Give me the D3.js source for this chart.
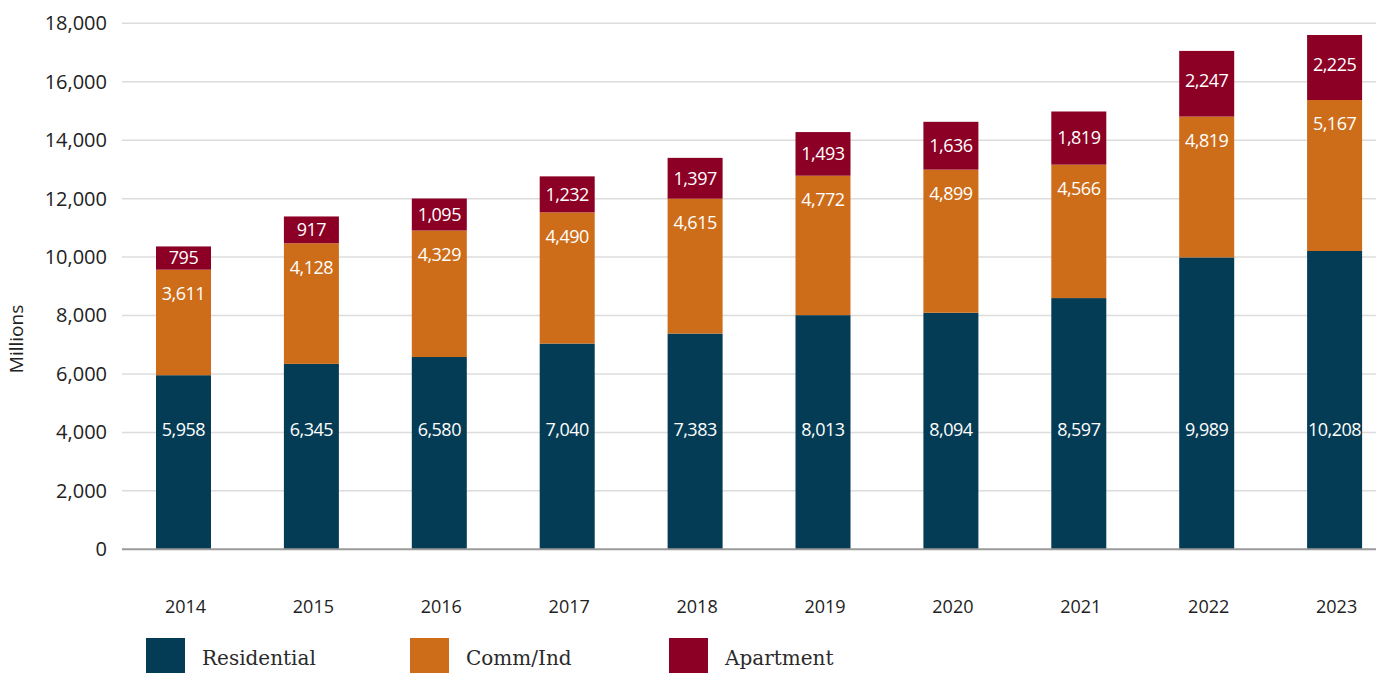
<!DOCTYPE html>
<html>
<head>
<meta charset="utf-8">
<script src="https://cdn.jsdelivr.net/npm/d3@7"></script>
<style>
  html, body { margin: 0; padding: 0; background: #ffffff; }
  svg { display: block; }
</style>
</head>
<body>
<svg id="chart" width="1376" height="673"></svg>
<script>
// ---- Data ----
const years = ["2014","2015","2016","2017","2018","2019","2020","2021","2022","2023"];
const residential = [5958, 6345, 6580, 7040, 7383, 8013, 8094, 8597, 9989, 10208];
const commInd     = [3611, 4128, 4329, 4490, 4615, 4772, 4899, 4566, 4819, 5167];
const apartment   = [795, 917, 1095, 1232, 1397, 1493, 1636, 1819, 2247, 2225];
const yTicks = [0, 2000, 4000, 6000, 8000, 10000, 12000, 14000, 16000, 18000];
const seriesNames = ["Residential", "Comm/Ind", "Apartment"];
const yAxisTitle = "Millions";

// ---- Styles ----
const colors = ["#053c55", "#ce6d19", "#8c0025"];
const W = 1376, H = 673;
const svg = d3.select("#chart");

const y = d3.scaleLinear().domain([0, 18000]).range([549.3, 23.3]);
const step = 127.9;
const x = d3.scaleBand()
  .domain(years)
  .range([183.5 - step / 2, 183.5 - step / 2 + step * years.length])
  .paddingInner(1 - 55 / step)
  .paddingOuter((1 - 55 / step) / 2);

const fmt = d3.format(",");
const sans = "'Open Sans', 'Noto Sans', sans-serif";

// gridlines
svg.append("g").selectAll("line")
  .data(yTicks.filter(d => d > 0))
  .join("line")
  .attr("x1", 122).attr("x2", W)
  .attr("y1", d => y(d)).attr("y2", d => y(d))
  .attr("stroke", "#dcdcdc").attr("stroke-width", 1.5);

// y axis tick labels
const yAxis = d3.axisLeft(y).tickValues(yTicks).tickFormat(fmt).tickSize(0).tickPadding(0);
const gy = svg.append("g").attr("transform", "translate(107,0)").call(yAxis);
gy.select(".domain").remove();
gy.selectAll("text")
  .attr("font-family", sans).attr("font-size", 20).attr("fill", "#222");

// stacked data
const table = years.map((yr, i) => ({
  year: yr, Residential: residential[i], "Comm/Ind": commInd[i], Apartment: apartment[i]
}));
const stack = d3.stack().keys(seriesNames)(table);

const layers = svg.append("g").selectAll("g")
  .data(stack).join("g")
  .attr("fill", (d, i) => colors[i]);

layers.selectAll("rect")
  .data(d => d)
  .join("rect")
  .attr("x", d => x(d.data.year))
  .attr("width", x.bandwidth())
  .attr("y", d => y(d[1]))
  .attr("height", d => y(d[0]) - y(d[1]));

// baseline
svg.append("line")
  .attr("x1", 122).attr("x2", W)
  .attr("y1", y(0)).attr("y2", y(0))
  .attr("stroke", "#9a9a9a").attr("stroke-width", 2);

// value labels
const labG = svg.append("g")
  .attr("font-family", sans).attr("font-size", 18)
  .attr("letter-spacing", "-0.5px")
  .attr("fill", "#ffffff").attr("text-anchor", "middle");

stack.forEach((layer, si) => {
  labG.selectAll(null)
    .data(layer)
    .join("text")
    .attr("x", d => x(d.data.year) + x.bandwidth() / 2)
    .attr("y", d => {
      const top = y(d[1]), bot = y(d[0]);
      if (si === 0) return 430;
      if (si === 1) return top + 24;
      const h = bot - top;
      return h > 60 ? top + 30 : (top + bot) / 2;
    })
    .attr("dy", "0.35em")
    .text(d => fmt(d.data[seriesNames[si]]));
});

// x axis year labels
svg.append("g").selectAll("text")
  .data(years).join("text")
  .attr("x", d => x(d) + x.bandwidth() / 2 + 2)
  .attr("y", 613)
  .attr("text-anchor", "middle")
  .attr("font-family", sans).attr("font-size", 18).attr("fill", "#222")
  .text(d => d);

// y axis title
svg.append("text")
  .attr("transform", "translate(23,339) rotate(-90)")
  .attr("text-anchor", "middle")
  .attr("font-family", sans).attr("font-size", 19).attr("fill", "#222")
  .text(yAxisTitle);

// legend
const legendX = [146, 410, 669];
const lg = svg.append("g").selectAll("g")
  .data(seriesNames).join("g")
  .attr("transform", (d, i) => `translate(${legendX[i]},638)`);
lg.append("rect").attr("width", 39).attr("height", 35).attr("fill", (d, i) => colors[i]);
lg.append("text")
  .attr("x", 56).attr("y", 26.5)
  .attr("font-family", "'DejaVu Serif', serif").attr("font-size", 20).attr("fill", "#2a2a2a")
  .text(d => d);
</script>
</body>
</html>
